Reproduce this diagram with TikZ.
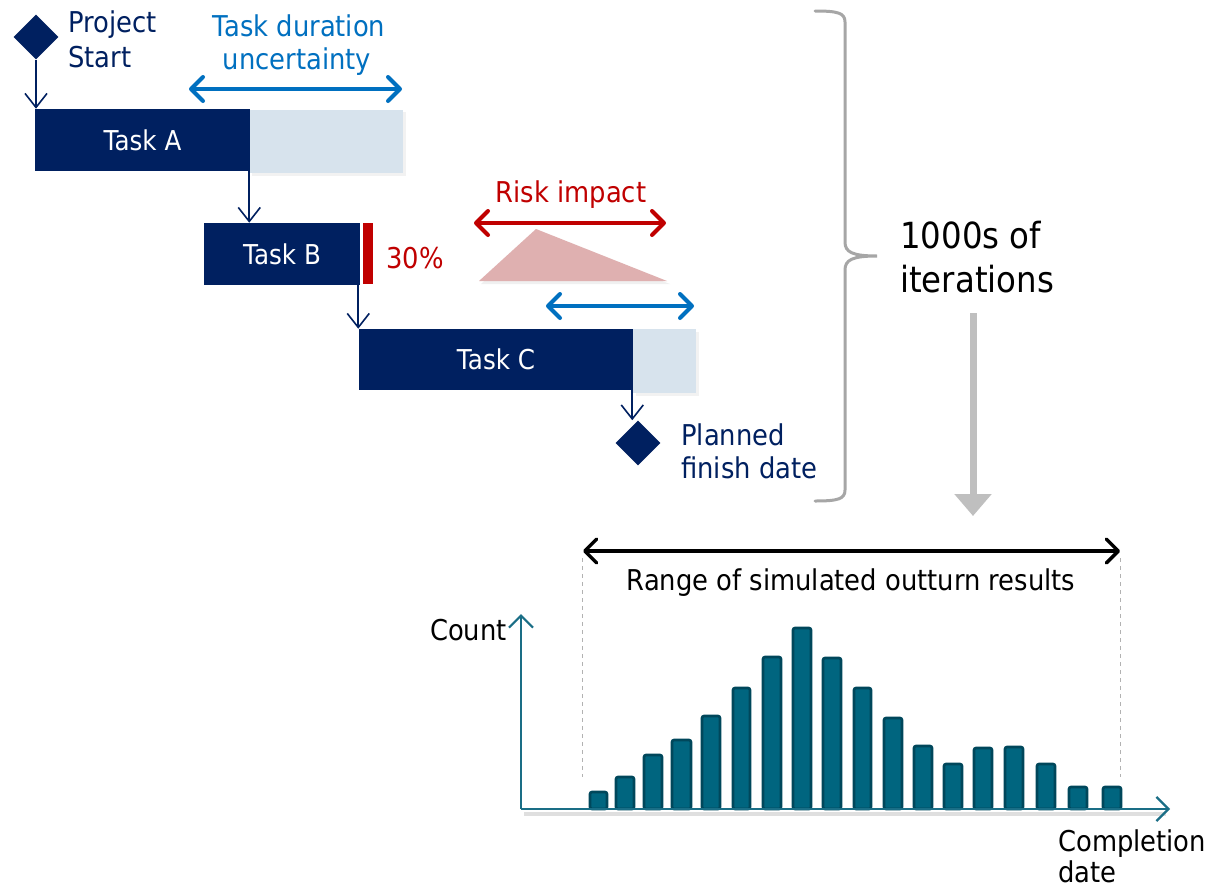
\documentclass[tikz,border=0pt]{standalone}
\usepackage{fontspec}
\setmainfont{DejaVu Sans}[FakeStretch=0.9]
\usetikzlibrary{arrows.meta,shapes.geometric,calc}
\definecolor{navy}{HTML}{002060}
\definecolor{lightext}{HTML}{D7E3ED}
\definecolor{uncblue}{HTML}{0070C0}
\definecolor{riskred}{HTML}{C00000}
\definecolor{riskpink}{HTML}{DFB0B0}
\definecolor{bracegray}{HTML}{A6A6A6}
\definecolor{flowgray}{HTML}{BFBFBF}
\definecolor{axisteal}{HTML}{1A6E86}
\definecolor{barfill}{HTML}{00657F}
\definecolor{barline}{HTML}{00475B}
\def\px{0.75pt}
\tikzset{
  txt/.style={inner sep=0pt, font=\fontsize{21.5}{25}\selectfont},
  bigtxt/.style={inner sep=0pt, font=\fontsize{27}{32}\selectfont},
  taskbar/.style={fill=navy, text=white, inner sep=0pt, font=\fontsize{20.5}{24}\selectfont},
  extbar/.style={fill=lightext, inner sep=0pt},
  milestone/.style={diamond, fill=navy, inner sep=0pt, minimum width=45*\px, minimum height=45*\px},
  link/.style={navy, line width=1.6*\px, -{Straight Barb[length=14*\px,width=22*\px,line width=1.6*\px]}},
  span/.style={line width=4*\px, line cap=round, {Straight Barb[length=12*\px,width=24*\px,round]}-{Straight Barb[length=12*\px,width=24*\px,round]}},
  axis/.style={axisteal, line width=2.2*\px, -{Straight Barb[length=12*\px,width=24*\px,line width=2.2*\px]}},
  histbar/.style={fill=barfill, draw=barline, line width=2.6*\px, rounded corners=2*\px},
  guide/.style={gray!60, dashed, line width=1*\px}
}
\begin{document}
\begin{tikzpicture}[x=0.75pt, y=-0.75pt]
\useasboundingbox[fill=white] (0,0) rectangle (1216,889);

% --- Gantt part -------------------------------------------------------
\node[milestone] (start) at (36,37) {};
\node[txt, navy, anchor=base west] (startl1) at (68,32) {Project};
\node[txt, navy, anchor=base west] (startl2) at (68,67) {Start};

\fill[gray!10] (252,112) rectangle (406,176);
\node[extbar, minimum width=153*\px, minimum height=63*\px] (extA) at (326.5,141) {};
\node[taskbar, minimum width=215*\px, minimum height=62*\px] (taskA) at (142.5,140) {Task A};

\node[taskbar, minimum width=156*\px, minimum height=62*\px] (taskB) at (282,254) {Task B};
\node[fill=riskred, inner sep=0pt, minimum width=10*\px, minimum height=61*\px] (prob) at (368,253.5) {};
\node[txt, riskred, anchor=west] (probl) at (386,258) {30\%};

\fill[gray!10] (636,332) rectangle (699,396);
\node[extbar, minimum width=63*\px, minimum height=64*\px] (extC) at (664.5,361) {};
\node[taskbar, minimum width=274*\px, minimum height=61*\px] (taskC) at (496,359.5) {Task C};

\node[milestone] (finish) at (638,443) {};
\node[txt, navy, anchor=base west] (finl1) at (681,445) {Planned};
\node[txt, navy, anchor=base west] (finl2) at (681,478) {finish date};

\draw[link] (start.south) -- (start.south |- taskA.north);
\draw[link] ($(taskA.south east)+(-1,0)$) -- ($(taskA.south east |- taskB.north)+(-1,0)$);
\draw[link] ($(taskB.south east)+(-2,0)$) -- ($(taskB.south east |- taskC.north)+(-2,0)$);
\draw[link] ($(taskC.south east)+(-1,0)$) -- ($(taskC.south east |- finish.north)+(-1,0)$);

% duration uncertainty of task A
\node[txt, uncblue, anchor=base] (uncl1) at (299,36) {Task duration};
\node[txt, uncblue, anchor=base] (uncl2) at (297,69) {uncertainty};
\coordinate (uncAl) at (189,89);
\coordinate (uncAr) at (402,89);
\draw[span, uncblue] (uncAl) -- (uncAr);

% risk impact
\node[txt, riskred, anchor=base] (riskl) at (571,202) {Risk impact};
\coordinate (riskL) at (474,223);
\coordinate (riskR) at (666,223);
\draw[span, riskred] (riskL) -- (riskR);
\fill[gray!12] (481,284) -- (537,233) -- (670,284) -- cycle;
\fill[riskpink] (479,281) -- (536,229) -- (667,281) -- cycle;

% duration uncertainty of task C
\coordinate (uncCl) at (546,306);
\coordinate (uncCr) at (694,306);
\draw[span, uncblue] (uncCl) -- (uncCr);

% --- Iterations --------------------------------------------------------
\draw[bracegray, line width=3*\px, line cap=round]
  (815,11) .. controls (838,11) and (845,13) .. (845,22) -- (845,242)
  .. controls (845,252) and (852,256) .. (877,256)
  .. controls (852,256) and (845,260) .. (845,270) -- (845,490)
  .. controls (845,499) and (838,501) .. (815,501);
\node[bigtxt, anchor=base west] (iterl1) at (900,248) {1000s of};
\node[bigtxt, anchor=base west] (iterl2) at (900,292) {iterations};
\coordinate (flowtop) at (973,313);
\coordinate (flowbot) at (973,516);
\draw[flowgray, line width=7*\px, -{Triangle[length=22*\px,width=36*\px]}] (flowtop) -- (flowbot);

% --- Histogram ---------------------------------------------------------
\coordinate (rangeL) at (583,551);
\coordinate (rangeR) at (1120,551);
\draw[span, black, line width=3.5*\px] (rangeL) -- (rangeR);
\node[txt, anchor=base] (rangel) at (851,590) {Range of simulated outturn results};
\draw[guide] (582,558) -- (582,777);
\draw[guide] (1120,558) -- (1120,777);

\coordinate (origin) at (521,809);
\coordinate (yend) at (521,614);
\coordinate (xend) at (1170,809);
\draw[gray!25, line width=4*\px] (524,814) -- (1166,814);
\foreach \l/\r/\t in {590/607/792, 616/634/777, 644/662/755, 672/691/740, 702/720/716,
  733/750/688, 763/781/657, 793/811/628, 823/841/658, 854/871/688, 884/902/718,
  914/932/746, 944/962/764, 974/992/748, 1005/1023/747, 1037/1055/764,
  1069/1087/787, 1103/1121/787}
  \draw[histbar] (\l,809) rectangle (\r,\t);
\draw[axis] (origin) -- (yend);
\draw[axis] (origin) -- (xend);
\node[txt, anchor=base east] (countl) at (507,640) {Count};
\node[txt, anchor=base west] (compl1) at (1058,851) {Completion};
\node[txt, anchor=base west] (compl2) at (1058,882) {date};
\end{tikzpicture}
\end{document}
